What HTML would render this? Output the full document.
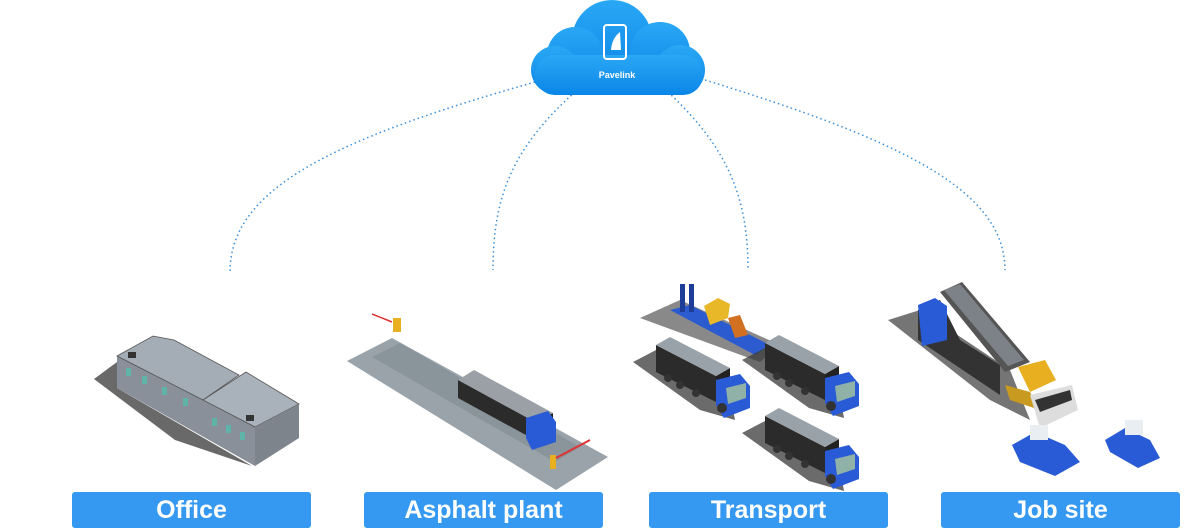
<!DOCTYPE html>
<html><head><meta charset="utf-8"><style>
html,body{margin:0;padding:0;background:#fff;width:1200px;height:530px;overflow:hidden;font-family:"Liberation Sans",sans-serif}
.b{position:absolute;top:492px;height:36px;width:239px;background:#3598f1;border-radius:3px;color:#fff;font-weight:bold;font-size:25px;text-align:center;line-height:36px}
</style></head><body>
<svg width="1200" height="530" style="position:absolute;left:0;top:0">
<defs>
<linearGradient id="cg" x1="0" y1="0" x2="0" y2="1"><stop offset="0" stop-color="#2aa8f5"/><stop offset="1" stop-color="#0b86e8"/></linearGradient>
<g id="truck">
<polygon points="633,362 656,350 730,392 735,420 700,410" fill="#3a3a3a" opacity=".75"/>
<polygon points="656,345 716,376 716,402 656,372" fill="#2b2b2b"/>
<polygon points="716,376 730,368 730,392 716,402" fill="#222"/>
<polygon points="656,345 670,337 730,368 716,376" fill="#9aa2a9"/>
<polygon points="716,380 740,374 750,386 750,408 724,418 716,405" fill="#2a5bd6"/>
<polygon points="726,388 746,383 746,398 728,404" fill="#8fb1a8"/>
<circle cx="668" cy="378" r="4" fill="#333"/><circle cx="680" cy="385" r="4" fill="#333"/><circle cx="696" cy="393" r="4" fill="#333"/><circle cx="722" cy="408" r="5" fill="#333"/>
</g>
</defs>
<g fill="none" stroke="#3a8fd8" stroke-width="1.5" stroke-dasharray="1.5 3">
<path d="M535 82 C330 140 230 190 230 272"/>
<path d="M575 92 C510 150 493 200 493 270"/>
<path d="M668 92 C730 150 748 200 748 270"/>
<path d="M705 80 C900 140 1005 190 1005 270"/>
</g>
<g fill="url(#cg)">
<circle cx="612" cy="40" r="40"/><circle cx="660" cy="52" r="30"/><circle cx="575" cy="55" r="28"/>
<circle cx="555" cy="70" r="24"/><circle cx="680" cy="70" r="25"/>
<rect x="535" y="55" width="168" height="40" rx="20"/>
</g>
<rect x="604" y="25" width="22" height="34" rx="3" fill="none" stroke="#fff" stroke-width="2"/>
<path d="M611 50 Q612 38 620 32 L621 50 Z" fill="#fff"/>
<text x="617" y="78" fill="#fff" font-size="9" font-weight="bold" text-anchor="middle" font-family="Liberation Sans">Pavelink</text>
<!-- office -->
<polygon points="94,379 117,362 117,388 252,466 175,440" fill="#444" opacity=".8"/>
<polygon points="117,356 203,400 255,427 255,466 117,388" fill="#8a9099"/>
<polygon points="117,356 153,336 174,340 239,375 203,400" fill="#a4acb5" stroke="#555" stroke-width=".8"/>
<polygon points="203,400 246,372 299,404 255,427" fill="#a9b1ba" stroke="#555" stroke-width=".8"/>
<polygon points="255,427 299,404 299,438 255,466" fill="#7d848c"/>
<g fill="#5fb3a8"><rect x="126" y="368" width="5" height="8"/><rect x="142" y="376" width="5" height="8"/><rect x="162" y="387" width="5" height="8"/><rect x="183" y="398" width="5" height="8"/><rect x="212" y="418" width="5" height="8"/><rect x="226" y="425" width="5" height="8"/><rect x="240" y="432" width="5" height="8"/></g>
<rect x="128" y="352" width="8" height="6" fill="#333"/><rect x="246" y="415" width="8" height="6" fill="#333"/>
<!-- asphalt plant -->
<polygon points="347,361 392,338 608,457 556,490" fill="#9aa3aa"/>
<polygon points="372,357 400,343 580,447 555,462" fill="#8a949b"/>
<polygon points="458,380 535,422 535,440 458,398" fill="#2b2b2b"/>
<polygon points="535,422 553,413 553,430 535,440" fill="#222"/>
<polygon points="458,380 474,370 553,413 535,422" fill="#9aa0a6"/>
<polygon points="526,418 548,411 556,422 556,442 532,450 526,438" fill="#2a5bd6"/>
<rect x="393" y="318" width="8" height="14" fill="#e8b020"/>
<rect x="550" y="455" width="6" height="14" fill="#e8b020"/>
<line x1="556" y1="458" x2="590" y2="440" stroke="#d33" stroke-width="2"/>
<line x1="372" y1="314" x2="392" y2="322" stroke="#d33" stroke-width="1.5"/>
<!-- transport -->
<polygon points="640,318 680,300 780,345 760,362" fill="#3a3a3a" opacity=".6"/>
<polygon points="670,310 690,305 770,345 755,355" fill="#2c5bd0"/>
<rect x="680" y="284" width="5" height="28" fill="#1e3d99"/><rect x="689" y="284" width="5" height="28" fill="#1e3d99"/>
<polygon points="704,306 718,298 730,304 728,318 710,325" fill="#e8b828"/>
<polygon points="728,318 740,315 748,335 735,338" fill="#d07020"/>
<use href="#truck"/>
<use href="#truck" transform="translate(109,-2)"/>
<use href="#truck" transform="translate(109,71)"/>
<!-- job site -->
<polygon points="888,320 920,310 1010,370 1030,420 990,400" fill="#3a3a3a" opacity=".7"/>
<polygon points="918,310 940,300 960,340 1000,365 1000,395 918,340" fill="#333"/>
<polygon points="918,305 935,298 947,306 947,340 922,346" fill="#2a5bd6"/>
<polygon points="940,292 962,282 1030,362 1005,372" fill="#555"/>
<polygon points="944,290 960,284 1024,360 1008,366" fill="#7c8288"/>
<polygon points="1018,367 1045,360 1056,380 1030,392" fill="#e8b020"/>
<polygon points="1005,385 1030,392 1040,410 1010,400" fill="#c99a20"/>
<polygon points="1030,395 1072,385 1078,410 1040,428" fill="#ddd"/>
<polygon points="1035,400 1070,390 1072,400 1040,412" fill="#333"/>
<polygon points="1012,445 1035,432 1065,445 1080,462 1055,476 1020,462" fill="#2a5bd6"/>
<rect x="1030" y="425" width="18" height="15" fill="#e8eef2"/>
<polygon points="1105,440 1125,428 1150,440 1160,458 1138,468 1110,452" fill="#2a5bd6"/>
<rect x="1125" y="420" width="18" height="15" fill="#e8eef2"/>
</svg>
<div class="b" style="left:72px">Office</div>
<div class="b" style="left:364px">Asphalt plant</div>
<div class="b" style="left:649px">Transport</div>
<div class="b" style="left:941px">Job site</div>
</body></html>
